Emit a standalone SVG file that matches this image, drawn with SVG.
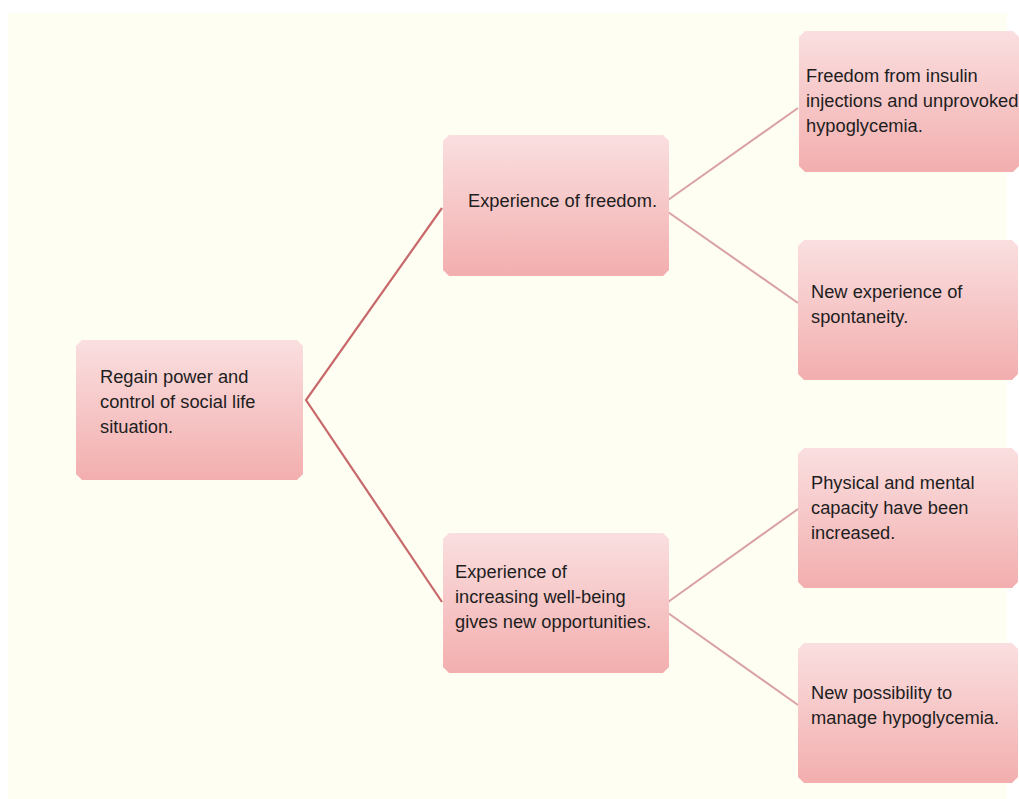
<svg xmlns="http://www.w3.org/2000/svg" width="1019" height="799" viewBox="0 0 1019 799">
<defs>
<linearGradient id="boxfill" x1="0" y1="0" x2="0" y2="1">
<stop offset="0" stop-color="#fadfe0"/>
<stop offset="1" stop-color="#f3aeae"/>
</linearGradient>
<style>
.box{fill:url(#boxfill);stroke:none}
.t{font-family:"Liberation Sans",Arial,sans-serif;font-size:18.3px;fill:#1e1e1e}
.c1{stroke:#c8686a;stroke-width:2.2;fill:none}
.c2{stroke:#d9a1a3;stroke-width:2;fill:none}
</style>
</defs>
<rect x="0" y="0" width="1019" height="799" fill="#ffffff"/>
<rect x="8" y="13" width="999" height="786" fill="#fefef2"/>
<g id="connectors">
<polyline class="c1" points="442,208 306,400 442,602"/>
<polyline class="c2" points="798,108 668,200"/>
<polyline class="c2" points="668,212 798,303"/>
<polyline class="c2" points="798,509 668,602"/>
<polyline class="c2" points="668,613 798,705"/>
</g>
<g id="root">
<path class="box" d="M82,340 H297 L303,346 V474 L297,480 H82 L76,474 V346 Z"/>
<text class="t" x="100" y="383">Regain power and</text>
<text class="t" x="100" y="408">control of social life</text>
<text class="t" x="100" y="433">situation.</text>
</g>
<g id="freedom">
<path class="box" d="M449,135 H663 L669,141 V270 L663,276 H449 L443,270 V141 Z"/>
<text class="t" x="468" y="207">Experience of freedom.</text>
</g>
<g id="wellbeing">
<path class="box" d="M449,533 H663 L669,539 V667 L663,673 H449 L443,667 V539 Z"/>
<text class="t" x="455" y="578">Experience of</text>
<text class="t" x="455" y="603">increasing well-being</text>
<text class="t" x="455" y="628">gives new opportunities.</text>
</g>
<g id="insulin">
<path class="box" d="M805,31 H1013 L1019,37 V166 L1013,172 H805 L799,166 V37 Z"/>
<text class="t" x="806" y="82">Freedom from insulin</text>
<text class="t" x="806" y="107">injections and unprovoked</text>
<text class="t" x="806" y="132">hypoglycemia.</text>
</g>
<g id="spontaneity">
<path class="box" d="M804,240 H1012 L1018,246 V374 L1012,380 H804 L798,374 V246 Z"/>
<text class="t" x="811" y="298">New experience of</text>
<text class="t" x="811" y="323">spontaneity.</text>
</g>
<g id="capacity">
<path class="box" d="M804,448 H1012 L1018,454 V582 L1012,588 H804 L798,582 V454 Z"/>
<text class="t" x="811" y="489">Physical and mental</text>
<text class="t" x="811" y="514">capacity have been</text>
<text class="t" x="811" y="539">increased.</text>
</g>
<g id="possibility">
<path class="box" d="M804,643 H1012 L1018,649 V777 L1012,783 H804 L798,777 V649 Z"/>
<text class="t" x="811" y="699">New possibility to</text>
<text class="t" x="811" y="724">manage hypoglycemia.</text>
</g>
</svg>
